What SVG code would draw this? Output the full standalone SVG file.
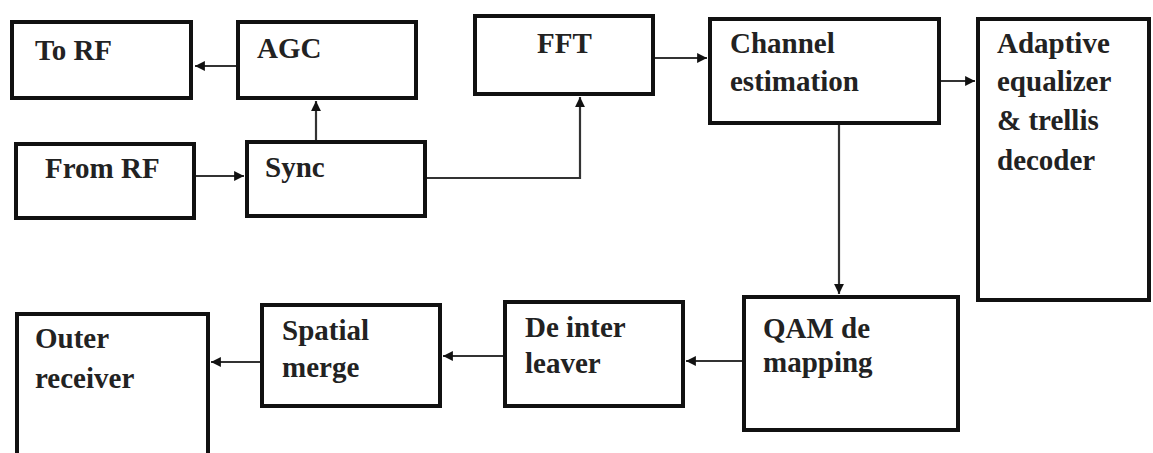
<svg xmlns="http://www.w3.org/2000/svg" width="1153" height="453" viewBox="0 0 1153 453">
<style>
.box{fill:#fff;stroke:#111;stroke-width:4}
.lbl{font-family:'Liberation Serif','Times New Roman','DejaVu Serif',serif;font-weight:700;font-size:29px;fill:#222}
.cn{fill:none;stroke:#333;stroke-width:2.2}
</style>
<defs>
<marker id="ah" viewBox="0 0 10 10" refX="10" refY="5" markerWidth="4.5" markerHeight="4.5" orient="auto" markerUnits="strokeWidth">
<path d="M0,0 L10,5 L0,10 z" fill="#111"/>
</marker>
</defs>
<rect width="1153" height="453" fill="#fff"/>
<g id="connectors">
<line class="cn" x1="236" y1="66" x2="195" y2="66" marker-end="url(#ah)"/>
<line class="cn" x1="316" y1="140" x2="316" y2="101" marker-end="url(#ah)"/>
<line class="cn" x1="196" y1="176" x2="244" y2="176" marker-end="url(#ah)"/>
<polyline class="cn" points="427,178 580,178 580,97" marker-end="url(#ah)"/>
<line class="cn" x1="655" y1="58" x2="707" y2="58" marker-end="url(#ah)"/>
<line class="cn" x1="941" y1="81" x2="975" y2="81" marker-end="url(#ah)"/>
<line class="cn" x1="839" y1="125" x2="839" y2="294" marker-end="url(#ah)"/>
<line class="cn" x1="742" y1="361" x2="686" y2="361" marker-end="url(#ah)"/>
<line class="cn" x1="503" y1="356" x2="443" y2="356" marker-end="url(#ah)"/>
<line class="cn" x1="260" y1="362" x2="211" y2="362" marker-end="url(#ah)"/>
</g>
<g id="to-rf"><rect class="box" x="12" y="22" width="179" height="76"/><text class="lbl" x="35" y="60">To RF</text></g>
<g id="agc"><rect class="box" x="238" y="22" width="178" height="76"/><text class="lbl" x="257" y="58">AGC</text></g>
<g id="from-rf"><rect class="box" x="16" y="144" width="178" height="74"/><text class="lbl" x="45" y="178">From RF</text></g>
<g id="sync"><rect class="box" x="247" y="142" width="178" height="74"/><text class="lbl" x="265" y="177">Sync</text></g>
<g id="fft"><rect class="box" x="475" y="16" width="178" height="78"/><text class="lbl" x="537" y="53">FFT</text></g>
<g id="channel-estimation"><rect class="box" x="710" y="19" width="229" height="104"/><text class="lbl" x="730" y="53">Channel</text><text class="lbl" x="730" y="91">estimation</text></g>
<g id="adaptive-equalizer"><rect class="box" x="978" y="19" width="171" height="281"/><text class="lbl" x="997" y="53">Adaptive</text><text class="lbl" x="997" y="91">equalizer</text><text class="lbl" x="997" y="130">&amp; trellis</text><text class="lbl" x="997" y="170">decoder</text></g>
<g id="qam-demapping"><rect class="box" x="744" y="297" width="214" height="133"/><text class="lbl" x="763" y="338">QAM de</text><text class="lbl" x="763" y="372">mapping</text></g>
<g id="deinterleaver"><rect class="box" x="505" y="302" width="178" height="104"/><text class="lbl" x="525" y="337">De inter</text><text class="lbl" x="525" y="373">leaver</text></g>
<g id="spatial-merge"><rect class="box" x="262" y="305" width="178" height="101"/><text class="lbl" x="282" y="340">Spatial</text><text class="lbl" x="282" y="377">merge</text></g>
<g id="outer-receiver"><rect class="box" x="17" y="314" width="191" height="150"/><text class="lbl" x="35" y="348">Outer</text><text class="lbl" x="35" y="388">receiver</text></g>
</svg>
